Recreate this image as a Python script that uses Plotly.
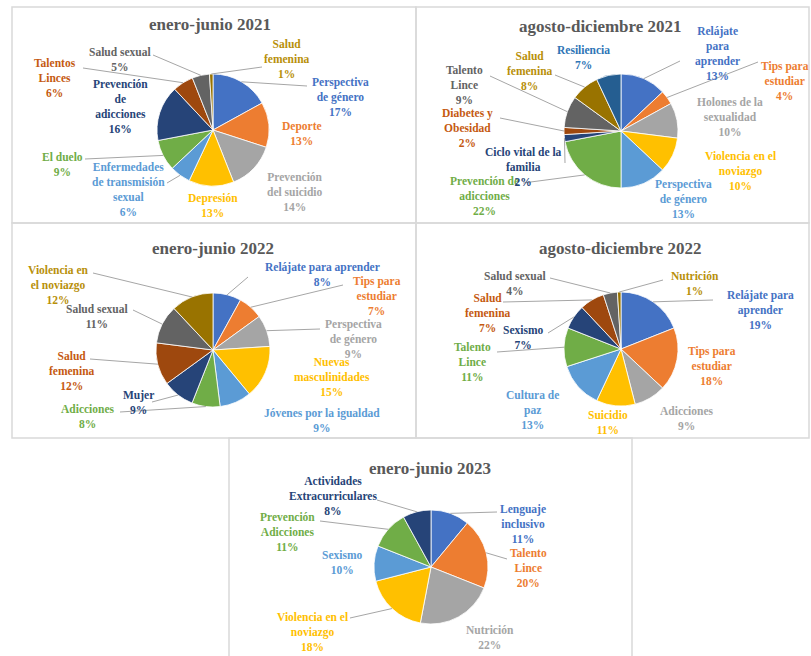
import math
import plotly.graph_objects as go

W, H = 811, 656

# ---------------- data ----------------
p1_title = "enero-junio 2021"
p1_cats = ["Perspectiva de género", "Deporte", "Prevención del suicidio", "Depresión",
           "Enfermedades de transmisión sexual", "El duelo", "Prevención de adicciones",
           "Talentos Linces", "Salud sexual", "Salud femenina"]
p1_vals = [17, 13, 14, 13, 6, 9, 16, 6, 5, 1]

p2_title = "agosto-diciembre 2021"
p2_cats = ["Relájate para aprender", "Tips para estudiar", "Holones de la sexualidad",
           "Violencia en el noviazgo", "Perspectiva de género", "Prevención de adicciones",
           "Ciclo vital de la familia", "Diabetes y Obesidad", "Talento Lince",
           "Salud femenina", "Resiliencia"]
p2_vals = [13, 4, 10, 10, 13, 22, 2, 2, 9, 8, 7]

p3_title = "enero-junio 2022"
p3_cats = ["Relájate para aprender", "Tips para estudiar", "Perspectiva de género",
           "Nuevas masculinidades", "Jóvenes por la igualdad", "Adicciones", "Mujer",
           "Salud femenina", "Salud sexual", "Violencia en el noviazgo"]
p3_vals = [8, 7, 9, 15, 9, 8, 9, 12, 11, 12]

p4_title = "agosto-diciembre 2022"
p4_cats = ["Relájate para aprender", "Tips para estudiar", "Adicciones", "Suicidio",
           "Cultura de paz", "Talento Lince", "Sexismo", "Salud femenina", "Salud sexual",
           "Nutrición"]
p4_vals = [19, 18, 9, 11, 13, 11, 7, 7, 4, 1]

p5_title = "enero-junio 2023"
p5_cats = ["Lenguaje inclusivo", "Talento Lince", "Nutrición", "Violencia en el noviazgo",
           "Sexismo", "Prevención Adicciones", "Actividades Extracurriculares"]
p5_vals = [11, 20, 22, 18, 10, 11, 8]

# ---------------- styles / layout ----------------
PALETTE = ["#4472C4", "#ED7D31", "#A5A5A5", "#FFC000", "#5B9BD5", "#70AD47",
           "#264478", "#9E480E", "#636363", "#997300", "#255E91"]
TEXT_COL = ["#4472C4", "#ED7D31", "#A5A5A5", "#FFC000", "#5B9BD5", "#70AD47",
            "#264478", "#C55A11", "#636363", "#B8900A", "#2E75B6"]
FONT = "Liberation Serif"
LABEL_SIZE = 11.5
TITLE_SIZE = 17

# per panel: border box, pie centre/radius, title position,
# label layout: (display name with breaks, x, y, leader start or None)
panels = [
    dict(title=p1_title, cats=p1_cats, vals=p1_vals, box=(12, 7, 416, 223),
         c=(213, 130), r=56, tpos=(210, 25),
         labels=[("Perspectiva<br>de género", 340, 97, (307, 86)),
                 ("Deporte", 302, 134, None),
                 ("Prevención<br>del suicidio", 295, 192, None),
                 ("Depresión", 213, 205, None),
                 ("Enfermedades<br>de transmisión<br>sexual", 128, 190, (167, 183)),
                 ("El duelo", 62, 164, (85, 159)),
                 ("Prevención<br>de<br>adicciones", 120, 106, None),
                 ("Talentos<br>Linces", 55, 78, (83, 68)),
                 ("Salud sexual", 120, 60, (153, 55)),
                 ("Salud<br>femenina", 287, 59, (262, 67))]),
    dict(title=p2_title, cats=p2_cats, vals=p2_vals, box=(416, 7, 809, 223),
         c=(621, 131), r=57, tpos=(600, 26),
         labels=[("Relájate<br>para<br>aprender", 717, 54, (680, 61)),
                 ("Tips para<br>estudiar", 785, 81, (758, 62)),
                 ("Holones de la<br>sexualidad", 730, 117, None),
                 ("Violencia en el<br>noviazgo", 740, 171, None),
                 ("Perspectiva<br>de género", 683, 199, None),
                 ("Prevención de<br>adicciones", 485, 196, (523, 183)),
                 ("Ciclo vital de la<br>familia", 523, 167, (565, 163)),
                 ("Diabetes y<br>Obesidad", 468, 128, (500, 118)),
                 ("Talento<br>Lince", 465, 85, (490, 76)),
                 ("Salud<br>femenina", 530, 71, (555, 75)),
                 ("Resiliencia", 583, 57, None)]),
    dict(title=p3_title, cats=p3_cats, vals=p3_vals, box=(12, 223, 416, 438),
         c=(213, 350), r=57, tpos=(213, 248),
         labels=[("Relájate para aprender", 322, 274, (248, 277)),
                 ("Tips para<br>estudiar", 377, 296, (343, 285)),
                 ("Perspectiva<br>de género", 353, 339, (320, 329)),
                 ("Nuevas<br>masculinidades", 332, 377, None),
                 ("Jóvenes por la igualdad", 322, 420, None),
                 ("Adicciones", 88, 417, (120, 412)),
                 ("Mujer", 138, 402, (152, 402)),
                 ("Salud<br>femenina", 72, 371, (90, 359)),
                 ("Salud sexual", 97, 317, (133, 310)),
                 ("Violencia en<br>el noviazgo", 58, 285, (93, 273))]),
    dict(title=p4_title, cats=p4_cats, vals=p4_vals, box=(416, 223, 809, 438),
         c=(621, 349), r=57, tpos=(620, 248),
         labels=[("Relájate para<br>aprender", 760, 310, (713, 300)),
                 ("Tips para<br>estudiar", 712, 366, None),
                 ("Adicciones", 687, 418, None),
                 ("Suicidio", 608, 422, None),
                 ("Cultura de<br>paz", 532, 410, None),
                 ("Talento<br>Lince", 472, 362, (497, 352)),
                 ("Sexismo", 523, 337, (548, 333)),
                 ("Salud<br>femenina", 488, 313, (503, 302)),
                 ("Salud sexual", 515, 283, (550, 278)),
                 ("Nutrición", 695, 284, (663, 280))]),
    dict(title=p5_title, cats=p5_cats, vals=p5_vals, box=(229, 438, 632, 660),
         c=(431, 567), r=57, tpos=(430, 468),
         labels=[("Lenguaje<br>inclusivo", 523, 524, (497, 512)),
                 ("Talento<br>Lince", 528, 568, (507, 559)),
                 ("Nutrición", 490, 637, None),
                 ("Violencia en el<br>noviazgo", 312, 632, (350, 618)),
                 ("Sexismo", 342, 562, None),
                 ("Prevención<br>Adicciones", 287, 532, (320, 521)),
                 ("Actividades<br>Extracurriculares", 333, 496, (377, 500))]),
]


def px(x):
    return x / W


def py(y):
    return 1 - y / H


fig = go.Figure()
shapes = []
annotations = []

for p in panels:
    x0, y0, x1, y1 = p["box"]
    shapes.append(dict(type="rect", xref="paper", yref="paper",
                       x0=px(x0), x1=px(x1), y0=py(y1), y1=py(y0),
                       line=dict(color="#D9D9D9", width=1.5), fillcolor="rgba(0,0,0,0)",
                       layer="below"))
    cx, cy = p["c"]
    r = p["r"]
    n = len(p["vals"])
    fig.add_trace(go.Pie(
        labels=p["cats"], values=p["vals"], sort=False, direction="clockwise",
        rotation=0, textinfo="none", hoverinfo="label+percent",
        marker=dict(colors=PALETTE[:n], line=dict(color="white", width=0.8)),
        domain=dict(x=[px(cx - r), px(cx + r)], y=[py(cy + r), py(cy - r)]),
        showlegend=False))
    annotations.append(dict(x=px(p["tpos"][0]), y=py(p["tpos"][1]), xref="paper",
                            yref="paper", text="<b>" + p["title"] + "</b>",
                            showarrow=False, xanchor="center", yanchor="middle",
                            font=dict(family=FONT, size=TITLE_SIZE, color="#595959")))
    total = sum(p["vals"])
    cum = 0
    for i, v in enumerate(p["vals"]):
        name, lx, ly, lead = p["labels"][i]
        pct = round(100 * v / total)
        annotations.append(dict(x=px(lx), y=py(ly), xref="paper", yref="paper",
                                text="<b>" + name + "<br>" + f"{pct}%" + "</b>",
                                showarrow=False, xanchor="center", yanchor="middle",
                                align="center",
                                font=dict(family=FONT, size=LABEL_SIZE,
                                          color=TEXT_COL[i])))
        mid = (cum + v / 2) / total * 2 * math.pi
        cum += v
        if lead is not None:
            ex = cx + r * math.sin(mid)
            ey = cy - r * math.cos(mid)
            shapes.append(dict(type="line", xref="paper", yref="paper",
                               x0=px(lead[0]), y0=py(lead[1]), x1=px(ex), y1=py(ey),
                               line=dict(color="#A6A6A6", width=1)))

fig.update_layout(width=W, height=H, margin=dict(l=0, r=0, t=0, b=0),
                  paper_bgcolor="white", plot_bgcolor="white",
                  shapes=shapes, annotations=annotations)

fig.write_html("out.html", config={"displayModeBar": False},
               post_script="document.body.style.margin='0';"
                           "document.body.style.overflow='hidden';")
